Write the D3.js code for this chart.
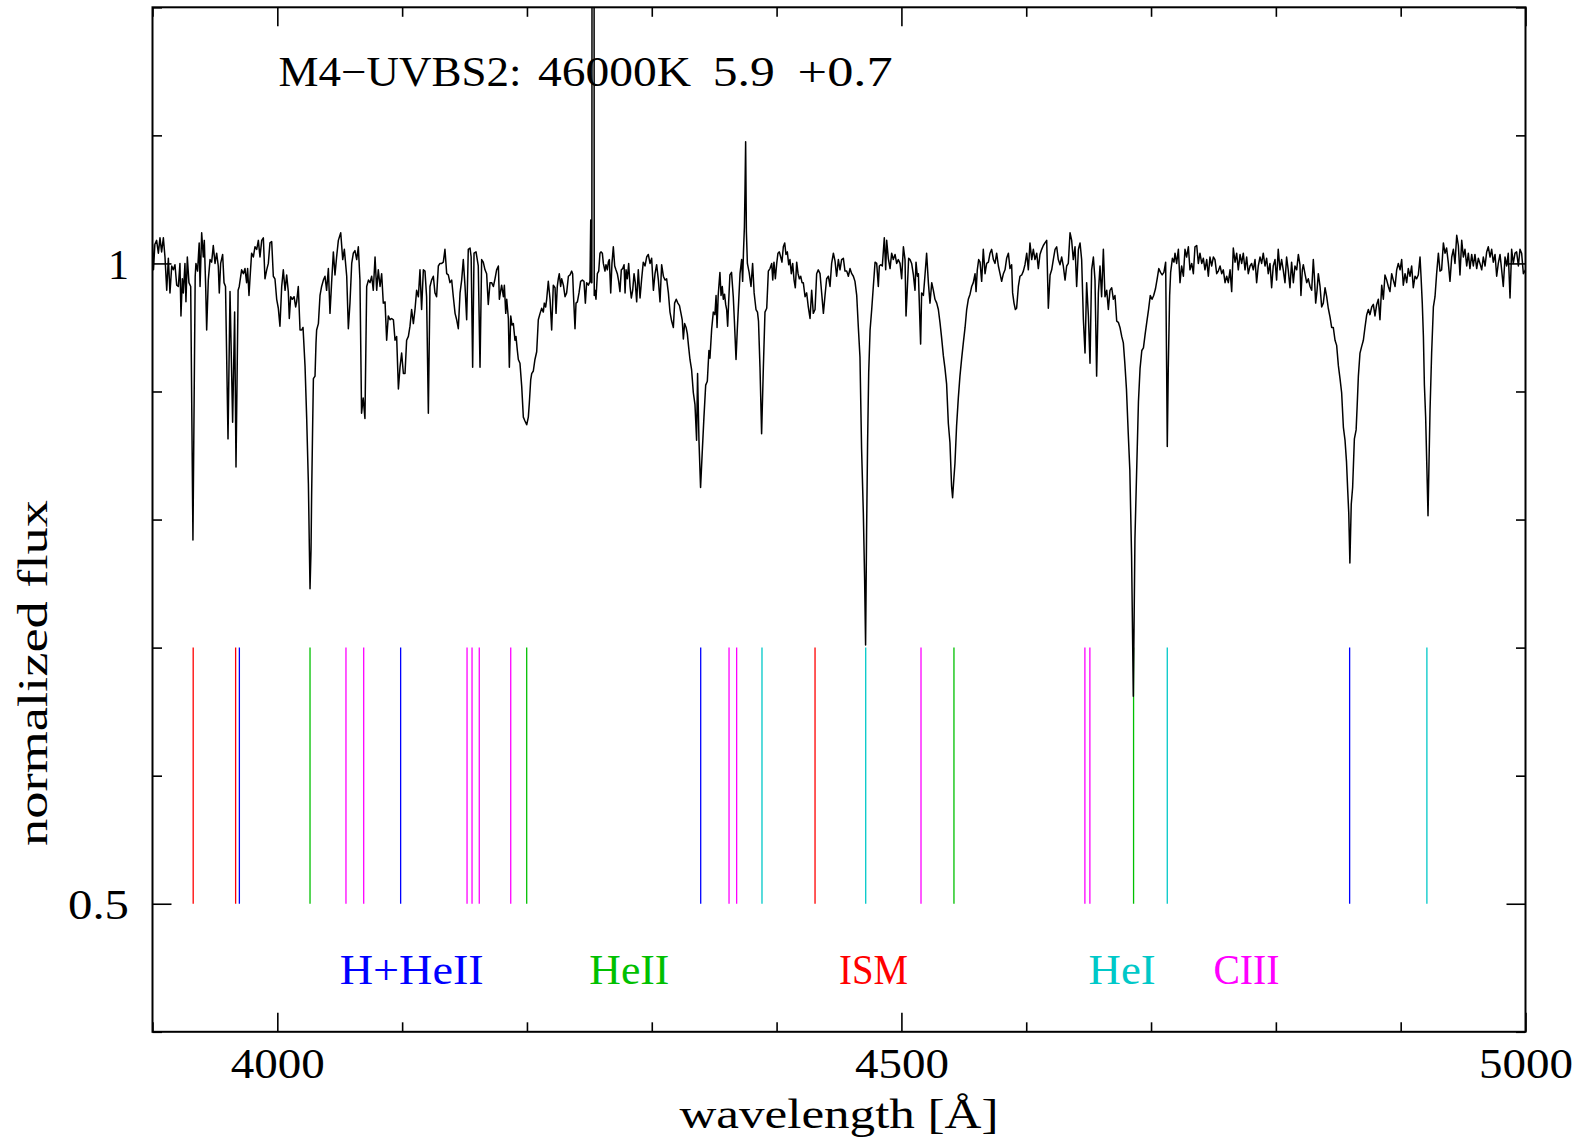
<!DOCTYPE html>
<html>
<head>
<meta charset="utf-8">
<script src="https://cdn.jsdelivr.net/npm/d3@7"></script>
<style>
  body { margin: 0; background: #fff; }
  text { font-family: "Liberation Serif", serif; }
</style>
</head>
<body>
<svg id="chart"></svg>
<script>
// normalized spectrum, [wavelength (A), flux]
const spectrum = [
[3900.0,1.015],[3900.8,0.995],[3901.9,1.015],[3903.3,1.018],[3904.7,1.008],[3906.0,1.020],[3907.3,1.009],[3908.7,1.020],[3910.0,1.005],[3911.4,0.979],
[3912.7,1.004],[3914.0,0.977],[3915.4,0.998],[3916.7,0.995],[3918.0,0.999],[3919.4,0.983],[3920.7,0.982],[3922.0,1.000],[3922.8,0.959],[3923.9,0.988],
[3924.7,0.977],[3926.0,1.000],[3926.8,0.970],[3927.9,1.005],[3929.2,0.985],[3930.6,0.982],[3932.4,0.784],[3934.2,0.990],[3934.8,1.000],[3936.1,0.994],
[3937.4,1.016],[3938.1,0.982],[3939.4,1.024],[3940.7,1.005],[3941.5,1.018],[3942.6,0.982],[3943.4,0.948],[3944.7,0.987],[3946.1,1.003],[3947.4,1.001],
[3948.7,1.014],[3950.1,1.000],[3951.4,1.008],[3952.7,0.998],[3953.5,0.977],[3954.6,1.000],[3956.2,1.007],[3957.3,0.985],[3958.5,0.982],[3960.5,0.863],
[3962.1,0.978],[3964.2,0.876],[3965.8,0.962],[3966.9,0.841],[3968.6,0.979],[3969.5,0.982],[3971.4,0.995],[3972.8,0.992],[3974.1,0.996],[3975.4,0.985],
[3976.2,0.996],[3977.3,0.975],[3978.1,0.988],[3979.4,1.008],[3980.8,1.005],[3982.1,1.013],[3983.5,1.011],[3984.8,1.018],[3986.1,1.005],[3987.5,1.018],
[3988.8,1.020],[3990.1,0.988],[3991.5,0.995],[3992.8,1.000],[3994.1,1.016],[3995.5,1.017],[3996.8,0.990],[3998.1,0.988],[3999.5,0.972],[4000.8,0.965],
[4002.1,0.951],[4003.5,0.982],[4004.8,0.995],[4006.2,0.979],[4007.5,0.991],[4008.8,0.978],[4009.6,0.957],[4010.7,0.974],[4012.0,0.972],[4013.4,0.974],
[4014.7,0.966],[4015.5,0.970],[4016.8,0.982],[4018.2,0.948],[4019.5,0.948],[4020.6,0.950],[4022.2,0.920],[4023.5,0.880],[4024.9,0.828],[4025.7,0.776],
[4026.2,0.746],[4027.0,0.776],[4027.5,0.820],[4028.3,0.873],[4028.9,0.910],[4030.2,0.912],[4031.0,0.938],[4031.5,0.948],[4032.9,0.953],[4034.2,0.975],
[4035.5,0.982],[4036.9,0.987],[4038.2,0.990],[4039.5,0.979],[4040.9,0.996],[4042.2,0.961],[4043.5,0.985],[4044.9,1.009],[4046.2,0.991],[4047.5,1.005],
[4048.9,1.018],[4050.8,1.024],[4052.4,1.003],[4053.7,1.011],[4055.6,0.990],[4056.9,0.949],[4058.2,0.969],[4059.6,1.000],[4060.9,1.008],[4062.2,1.010],
[4063.6,1.003],[4064.9,1.013],[4066.2,0.987],[4067.5,0.883],[4068.8,0.895],[4070.2,0.879],[4071.6,0.982],[4073.0,0.987],[4074.3,0.985],[4075.6,0.990],
[4076.9,0.979],[4078.3,1.005],[4079.6,0.979],[4080.9,0.995],[4082.3,0.982],[4083.6,0.992],[4084.9,0.969],[4086.3,0.970],[4087.6,0.940],[4088.9,0.959],
[4090.3,0.956],[4091.6,0.957],[4093.0,0.956],[4094.3,0.940],[4095.6,0.943],[4097.0,0.902],[4098.3,0.919],[4099.6,0.930],[4101.0,0.914],[4102.3,0.914],
[4103.6,0.940],[4105.0,0.943],[4106.3,0.951],[4107.6,0.964],[4109.0,0.953],[4110.3,0.964],[4111.6,0.979],[4113.0,0.974],[4114.3,0.995],[4115.6,0.964],
[4117.0,0.995],[4118.3,0.994],[4119.6,0.974],[4121.0,0.883],[4122.3,0.982],[4123.6,0.987],[4125.0,0.990],[4126.3,0.977],[4127.6,0.974],[4129.0,0.998],
[4130.3,1.000],[4131.7,1.000],[4133.0,1.001],[4134.3,1.011],[4135.7,0.992],[4137.0,0.991],[4138.3,0.985],[4139.7,0.987],[4141.0,0.974],[4142.4,0.961],
[4143.7,0.956],[4145.0,0.949],[4146.4,0.977],[4147.7,0.987],[4149.0,1.003],[4150.4,0.982],[4151.7,0.956],[4153.0,1.011],[4154.4,1.012],[4155.3,1.005],
[4156.5,0.919],[4157.6,1.008],[4159.2,1.009],[4161.0,0.998],[4162.4,0.919],[4163.7,1.003],[4165.0,1.001],[4166.4,0.995],[4167.7,0.992],[4169.0,0.968],
[4170.4,0.985],[4171.7,0.985],[4173.1,0.982],[4174.4,0.988],[4175.7,0.995],[4177.1,0.998],[4177.9,0.972],[4179.0,0.979],[4179.7,0.983],[4181.1,0.974],
[4181.9,0.983],[4183.0,0.961],[4183.8,0.972],[4185.1,0.957],[4185.9,0.919],[4187.0,0.959],[4188.0,0.952],[4189.1,0.953],[4190.4,0.940],[4191.2,0.943],
[4192.3,0.932],[4193.1,0.925],[4194.4,0.922],[4195.8,0.904],[4197.1,0.880],[4198.4,0.877],[4199.8,0.874],[4201.1,0.880],[4201.9,0.891],[4203.0,0.909],
[4203.8,0.914],[4205.1,0.916],[4206.4,0.925],[4207.8,0.931],[4209.1,0.956],[4210.5,0.961],[4211.8,0.965],[4213.1,0.962],[4213.9,0.969],[4215.0,0.966],
[4215.8,0.972],[4217.1,0.986],[4218.5,0.972],[4219.8,0.948],[4221.1,0.983],[4222.5,0.981],[4223.3,0.961],[4224.3,0.982],[4225.1,0.988],[4225.9,0.992],
[4227.0,0.982],[4227.8,0.988],[4229.2,0.983],[4230.5,0.974],[4231.8,0.977],[4233.2,0.990],[4234.5,0.991],[4235.8,0.994],[4236.6,0.992],[4237.2,0.977],
[4238.5,0.949],[4239.3,0.969],[4240.4,0.970],[4241.7,0.977],[4243.0,0.986],[4244.4,0.987],[4245.7,0.986],[4246.8,0.969],[4247.8,0.985],[4249.2,0.983],
[4250.5,0.986],[4251.1,1.034],[4251.6,0.985],[4252.0,0.985],[4252.95,3.000],[4253.9,0.975],[4254.5,0.979],[4255.3,0.972],[4256.4,0.992],[4257.5,0.994],
[4258.5,1.008],[4259.3,1.009],[4260.4,1.008],[4261.2,1.000],[4262.5,0.994],[4263.3,0.999],[4264.4,0.995],[4265.2,1.001],[4266.0,1.003],[4267.1,0.977],
[4268.1,1.000],[4269.2,1.013],[4270.3,0.998],[4271.3,0.995],[4272.4,0.992],[4273.5,0.986],[4274.5,0.978],[4275.6,0.995],[4276.7,0.996],[4277.8,0.999],
[4278.6,0.977],[4279.4,0.995],[4280.4,0.988],[4281.5,1.000],[4282.6,0.982],[4283.6,0.973],[4284.7,0.979],[4285.8,0.992],[4286.8,0.985],[4287.9,0.970],
[4289.2,0.995],[4290.6,0.973],[4291.9,0.988],[4293.2,1.001],[4294.6,0.998],[4295.9,1.005],[4297.2,1.007],[4298.6,1.000],[4299.9,1.004],[4301.3,0.979],
[4302.6,0.992],[4303.9,0.999],[4305.3,0.987],[4306.6,0.970],[4307.9,0.999],[4309.3,0.990],[4310.6,0.987],[4311.9,0.988],[4313.3,0.977],[4314.6,0.962],
[4315.9,0.955],[4317.3,0.950],[4318.3,0.969],[4319.6,0.972],[4320.9,0.969],[4322.2,0.967],[4323.6,0.960],[4324.4,0.956],[4325.3,0.941],[4326.3,0.953],
[4327.5,0.950],[4328.5,0.945],[4329.5,0.935],[4330.6,0.925],[4331.9,0.917],[4333.3,0.899],[4334.6,0.890],[4335.9,0.862],[4336.7,0.914],[4337.8,0.862],
[4339.1,0.825],[4340.5,0.854],[4341.8,0.880],[4343.2,0.905],[4344.5,0.908],[4345.8,0.932],[4346.6,0.926],[4348.0,0.949],[4349.3,0.962],[4350.6,0.960],
[4351.5,0.975],[4352.3,0.950],[4353.2,0.975],[4354.6,0.993],[4355.5,0.975],[4356.5,0.982],[4357.3,0.972],[4358.3,0.976],[4359.2,0.968],[4360.0,0.964],
[4360.8,0.951],[4361.6,0.970],[4362.6,0.991],[4363.9,0.993],[4365.3,0.974],[4366.2,0.955],[4367.5,0.925],[4368.5,0.948],[4369.6,0.970],[4370.7,0.992],
[4372.0,1.003],[4372.8,0.986],[4373.5,1.010],[4374.2,1.028],[4374.7,1.058],[4375.2,1.095],[4375.8,1.025],[4376.6,1.000],[4378.0,0.993],[4379.5,0.982],
[4380.8,1.000],[4382.0,0.977],[4383.5,0.964],[4384.7,0.962],[4385.5,0.955],[4386.7,0.919],[4388.0,0.867],[4389.4,0.919],[4390.7,0.962],[4392.1,0.965],
[4393.4,0.994],[4394.7,0.996],[4396.1,1.000],[4396.9,0.987],[4397.9,1.001],[4399.0,0.988],[4400.1,1.000],[4401.1,1.008],[4402.2,1.009],[4403.3,1.005],
[4404.3,1.001],[4405.4,1.013],[4406.5,1.016],[4407.5,1.007],[4408.6,1.009],[4409.7,0.999],[4410.7,1.003],[4411.8,0.992],[4412.9,1.000],[4414.0,0.987],
[4415.0,0.981],[4416.1,1.001],[4417.2,0.992],[4418.2,0.988],[4419.3,0.990],[4420.4,0.985],[4421.4,0.985],[4422.8,0.974],[4424.1,0.977],[4425.4,0.966],
[4426.8,0.957],[4428.1,0.979],[4429.4,0.961],[4430.8,0.964],[4432.1,0.992],[4433.4,0.995],[4434.8,0.992],[4436.1,0.977],[4437.5,0.961],[4438.8,0.975],
[4440.1,0.988],[4441.5,0.990],[4442.8,0.982],[4444.1,1.000],[4445.5,1.008],[4446.8,1.002],[4448.1,0.990],[4449.5,1.003],[4450.8,0.995],[4452.1,1.003],
[4453.5,1.004],[4454.8,0.994],[4456.2,0.994],[4457.5,0.990],[4458.8,0.996],[4460.2,0.992],[4461.5,0.990],[4462.8,0.986],[4464.2,0.975],[4465.5,0.950],
[4466.8,0.927],[4468.1,0.855],[4469.5,0.805],[4470.5,0.755],[4471.3,0.702],[4472.1,0.790],[4472.9,0.860],[4473.8,0.915],[4474.9,0.948],[4476.2,0.964],
[4477.5,0.982],[4478.9,1.001],[4480.2,1.000],[4481.5,0.982],[4482.3,0.998],[4483.4,0.999],[4484.7,0.998],[4486.3,1.020],[4487.4,0.995],[4488.2,1.018],
[4489.5,1.004],[4490.9,0.996],[4492.2,1.008],[4493.5,1.003],[4494.9,1.007],[4496.2,1.000],[4497.5,1.003],[4498.9,1.000],[4500.2,0.988],[4501.6,1.013],
[4502.9,1.003],[4503.7,0.959],[4504.8,0.982],[4505.8,1.004],[4506.9,1.003],[4508.2,1.000],[4509.6,0.991],[4510.9,0.979],[4511.7,1.001],[4512.8,0.990],
[4513.6,0.992],[4515.4,0.937],[4516.2,0.977],[4517.6,0.975],[4518.9,0.991],[4520.2,1.008],[4521.6,0.985],[4522.9,0.969],[4524.3,0.985],[4525.6,0.979],
[4526.9,0.972],[4528.3,0.969],[4529.6,0.964],[4530.9,0.954],[4532.2,0.942],[4533.6,0.928],[4534.9,0.918],[4536.2,0.906],[4537.6,0.875],[4538.9,0.860],
[4540.2,0.826],[4541.0,0.817],[4542.1,0.833],[4542.9,0.844],[4544.2,0.873],[4545.6,0.895],[4546.9,0.912],[4548.3,0.926],[4549.6,0.938],[4551.0,0.950],
[4552.3,0.964],[4553.6,0.972],[4555.0,0.976],[4556.3,0.982],[4557.6,0.985],[4559.0,0.992],[4559.8,0.978],[4560.8,0.995],[4561.9,1.003],[4563.0,1.001],
[4564.3,0.986],[4565.6,1.011],[4567.0,0.992],[4568.3,1.000],[4569.7,1.001],[4571.0,1.008],[4572.3,1.011],[4573.7,1.003],[4575.0,1.000],[4576.3,1.008],
[4577.7,0.998],[4579.0,0.992],[4580.3,0.986],[4581.7,0.992],[4583.0,0.995],[4584.3,1.004],[4585.7,1.008],[4587.0,0.996],[4588.3,0.999],[4589.1,0.977],
[4590.2,0.969],[4591.3,0.964],[4592.3,0.965],[4593.7,0.982],[4595.0,0.990],[4596.4,0.991],[4597.7,0.994],[4599.0,0.999],[4600.4,1.008],[4601.7,0.995],
[4603.0,1.016],[4604.4,1.003],[4605.7,1.011],[4607.0,1.003],[4608.4,1.008],[4609.7,0.996],[4611.0,1.007],[4612.4,1.011],[4613.7,1.014],[4615.0,1.016],
[4616.4,1.018],[4617.7,0.965],[4619.1,0.991],[4620.4,0.995],[4621.7,1.003],[4623.1,1.011],[4624.4,1.013],[4625.7,1.003],[4627.1,0.999],[4628.4,1.005],
[4629.7,0.998],[4631.1,0.987],[4632.4,0.998],[4633.7,1.000],[4635.1,1.024],[4636.4,1.018],[4637.7,1.003],[4639.1,1.013],[4640.4,0.982],[4641.8,1.011],
[4643.1,1.016],[4644.4,1.003],[4645.8,0.956],[4647.1,0.930],[4648.4,0.985],[4649.8,0.959],[4651.1,0.922],[4652.4,0.995],[4653.8,1.005],[4655.1,0.987],
[4656.4,0.912],[4657.8,0.977],[4659.1,0.998],[4660.4,0.974],[4661.8,1.011],[4663.1,0.974],[4664.5,0.979],[4665.8,0.964],[4667.1,0.979],[4668.5,0.981],
[4669.8,0.972],[4671.1,0.975],[4672.5,0.955],[4673.8,0.954],[4675.1,0.950],[4676.5,0.943],[4677.8,0.938],[4679.0,0.922],[4680.3,0.902],[4681.7,0.868],
[4683.0,0.839],[4684.4,0.772],[4685.8,0.662],[4687.1,0.785],[4688.5,0.839],[4689.9,0.892],[4691.2,0.918],[4692.6,0.932],[4693.9,0.934],[4695.3,0.945],
[4696.7,0.955],[4698.0,0.964],[4699.4,0.975],[4700.8,0.972],[4702.1,0.975],[4703.5,0.980],[4704.9,0.988],[4706.2,0.996],[4707.6,0.993],[4708.9,0.991],
[4710.3,0.993],[4711.7,1.001],[4712.5,0.918],[4713.0,0.857],[4713.8,0.918],[4714.9,0.975],[4715.7,0.993],[4717.1,1.004],[4718.4,1.001],[4719.2,1.008],
[4720.5,1.000],[4721.9,1.011],[4723.2,0.985],[4724.5,0.998],[4725.9,0.990],[4727.2,1.011],[4728.5,1.005],[4729.9,1.013],[4731.2,0.995],[4732.6,1.000],
[4733.9,0.992],[4735.2,1.013],[4736.6,1.014],[4737.9,1.000],[4739.2,1.008],[4740.6,1.000],[4741.9,1.004],[4743.2,0.995],[4744.6,1.003],[4745.9,0.990],
[4747.2,1.005],[4748.6,0.998],[4749.9,1.005],[4751.2,1.003],[4752.6,0.992],[4753.9,0.994],[4755.3,0.998],[4756.6,0.992],[4757.9,0.995],[4759.3,0.985],
[4760.6,0.990],[4761.9,0.985],[4763.3,0.995],[4764.6,0.978],[4765.9,1.012],[4767.3,1.001],[4768.6,1.008],[4769.9,0.995],[4771.3,1.007],[4772.6,1.000],
[4773.9,1.008],[4775.3,0.995],[4776.6,1.005],[4777.9,0.992],[4779.3,0.998],[4780.6,1.000],[4781.9,0.995],[4783.3,1.003],[4784.6,0.985],[4785.9,0.998],
[4787.3,1.005],[4788.6,1.000],[4789.9,1.008],[4791.3,0.998],[4792.6,1.004],[4793.9,0.992],[4795.3,1.000],[4796.6,0.981],[4797.9,0.998],[4799.3,1.003],
[4800.6,0.987],[4801.9,1.011],[4803.3,0.995],[4804.6,1.003],[4805.9,0.995],[4807.3,0.985],[4808.6,1.005],[4809.9,0.995],[4811.3,0.981],[4812.6,1.001],
[4814.0,0.985],[4815.3,0.998],[4816.7,0.995],[4818.0,1.007],[4819.3,0.999],[4820.1,0.975],[4821.2,0.995],[4822.0,0.999],[4823.3,0.992],[4824.7,0.985],
[4826.0,0.988],[4827.4,0.982],[4828.7,0.979],[4830.0,1.003],[4830.8,0.991],[4831.9,0.969],[4833.0,0.979],[4834.0,0.992],[4835.4,0.982],[4836.7,0.966],
[4838.0,0.969],[4839.4,0.981],[4840.7,0.974],[4842.0,0.965],[4843.4,0.958],[4844.7,0.950],[4846.0,0.950],[4847.4,0.940],[4848.7,0.936],[4850.1,0.920],
[4851.4,0.910],[4852.7,0.899],[4854.1,0.872],[4855.4,0.862],[4856.6,0.845],[4857.6,0.822],[4858.4,0.805],[4859.3,0.766],[4860.4,0.812],[4861.5,0.825],
[4862.9,0.863],[4864.3,0.870],[4865.1,0.888],[4866.1,0.912],[4867.4,0.930],[4868.7,0.935],[4870.1,0.940],[4871.4,0.950],[4872.8,0.960],[4874.1,0.964],
[4875.4,0.960],[4876.8,0.966],[4878.1,0.968],[4879.4,0.959],[4880.8,0.968],[4882.1,0.972],[4883.4,0.956],[4884.8,0.983],[4886.1,0.972],[4887.4,0.991],
[4888.8,0.987],[4890.1,0.982],[4891.4,0.978],[4892.8,0.992],[4894.1,0.987],[4895.5,0.982],[4896.8,0.995],[4898.1,1.000],[4899.5,0.995],[4900.8,1.003],
[4902.1,0.983],[4903.5,0.992],[4904.8,0.985],[4906.1,0.996],[4907.5,0.990],[4908.8,0.998],[4910.1,0.981],[4911.5,0.990],[4912.8,0.988],[4914.1,0.991],
[4915.5,1.005],[4916.3,0.990],[4917.3,0.969],[4918.2,0.943],[4919.0,0.905],[4920.0,0.880],[4921.0,0.840],[4921.9,0.803],[4922.8,0.850],[4923.5,0.885],
[4924.8,0.930],[4926.2,0.966],[4927.5,0.974],[4928.8,0.992],[4930.2,1.008],[4931.5,0.994],[4932.8,0.995],[4934.2,1.016],[4935.5,1.008],[4936.8,1.012],
[4938.2,1.000],[4939.5,0.986],[4940.9,1.005],[4942.2,1.011],[4943.5,1.000],[4944.9,1.022],[4946.2,1.014],[4947.5,0.991],[4948.9,1.018],[4950.2,1.005],
[4951.5,1.011],[4952.9,0.998],[4954.2,1.008],[4955.5,0.996],[4956.9,1.007],[4958.2,0.998],[4959.5,1.007],[4960.9,0.996],[4962.2,1.004],[4963.5,1.000],
[4964.9,0.995],[4966.2,1.005],[4967.6,0.998],[4968.9,1.009],[4970.2,1.013],[4971.6,1.005],[4972.9,1.011],[4974.2,1.001],[4975.6,1.007],[4976.9,0.990],
[4978.2,1.000],[4979.6,1.007],[4980.9,0.995],[4982.2,0.982],[4983.6,1.005],[4984.9,0.998],[4986.2,1.008],[4987.6,0.973],[4988.9,1.011],[4990.2,1.000],
[4991.6,1.008],[4992.9,1.009],[4994.3,0.998],[4995.6,1.011],[4996.9,1.008],[4998.3,0.992],[5000.0,0.995]
];

// line identifications (wavelengths of the marks)
const hLines = [3969.6, 4098.8, 4339.2, 4859.1];
const he2Lines = [4026.2, 4199.8, 4542.1, 4686.0];
const ismLines = [3932.6, 3966.6, 4430.8];
const he1Lines = [4388.3, 4471.4, 4713.0, 4921.0];
const c3Lines = [4055.0, 4069.2, 4152.0, 4156.0, 4161.8, 4187.0, 4361.9, 4368.0, 4515.7, 4647.0, 4651.0];

const groupNames = ["H+HeII", "HeII", "ISM", "HeI", "CIII"];
const groupLabelWave = [4050, 4250, 4450, 4650, 4750];

const xMajor = [4000, 4500, 5000];
const yMajor = [0.5, 1];

const titleWords = ["M4\u2212UVBS2:", "46000K", "5.9", "+0.7"];

const w = 1583, h = 1141;
const pLeft = 152.5, pRight = 1525.5, pTop = 7.3, pBottom = 1031.8;
const fs = 42;

const svg = d3.select("#chart").attr("width", w).attr("height", h);

const x = d3.scaleLinear().domain([3900, 5000]).range([pLeft, pRight]);
const y = d3.scaleLinear().domain([0.4, 1.2]).range([pBottom, pTop]);

const groups = [
  {waves: hLines, color: "#0000ff"},
  {waves: he2Lines, color: "#00c000"},
  {waves: ismLines, color: "#ff0000"},
  {waves: he1Lines, color: "#00c8c8"},
  {waves: c3Lines, color: "#ff00ff"}
];

svg.append("clipPath").attr("id", "plotClip")
  .append("rect").attr("x", pLeft).attr("y", pTop)
  .attr("width", pRight - pLeft).attr("height", pBottom - pTop);

// line marks
groups.forEach((g) => {
  svg.append("g").selectAll("line").data(g.waves).enter().append("line")
    .attr("x1", (d) => x(d)).attr("x2", (d) => x(d))
    .attr("y1", y(0.5)).attr("y2", y(0.7))
    .attr("stroke", g.color).attr("stroke-width", 1.3);
});

// spectrum
const line = d3.line().x((d) => x(d[0])).y((d) => y(d[1]));
svg.append("path").datum(spectrum)
  .attr("clip-path", "url(#plotClip)")
  .attr("d", line)
  .attr("fill", "none").attr("stroke", "#000").attr("stroke-width", 1.5)
  .attr("stroke-linejoin", "round");

// axes (ticks inside on all four sides)
const xMinor = d3.range(3900, 5001, 100).filter((v) => !xMajor.includes(v));
const yMinor = [0.4, 0.6, 0.7, 0.8, 0.9, 1.1, 1.2];

const styleAxis = (g) => {
  g.select(".domain").remove();
  g.selectAll("line").attr("stroke", "#000").attr("stroke-width", 1.6);
  g.selectAll("text").attr("font-size", fs).attr("fill", "#000")
    .style("font-family", "'Liberation Serif', serif");
};

const bottomAxis = svg.append("g").attr("transform", `translate(0,${pBottom})`)
  .call(d3.axisBottom(x).tickValues(xMajor).tickSizeInner(-19).tickSizeOuter(0).tickPadding(16.5).tickFormat(d3.format("d")))
  .call(styleAxis);
bottomAxis.selectAll("text").attr("textLength", 94).attr("lengthAdjust", "spacingAndGlyphs");

svg.append("g").attr("transform", `translate(0,${pBottom})`)
  .call(d3.axisBottom(x).tickValues(xMinor).tickSizeInner(-9.5).tickSizeOuter(0).tickFormat(""))
  .call(styleAxis);
svg.append("g").attr("transform", `translate(0,${pTop})`)
  .call(d3.axisTop(x).tickValues(xMajor).tickSizeInner(-19).tickSizeOuter(0).tickFormat(""))
  .call(styleAxis);
svg.append("g").attr("transform", `translate(0,${pTop})`)
  .call(d3.axisTop(x).tickValues(xMinor).tickSizeInner(-9.5).tickSizeOuter(0).tickFormat(""))
  .call(styleAxis);

const leftAxis = svg.append("g").attr("transform", `translate(${pLeft},0)`)
  .call(d3.axisLeft(y).tickValues(yMajor).tickSizeInner(-19).tickSizeOuter(0).tickPadding(23.5).tickFormat(d3.format("~g")))
  .call(styleAxis);
leftAxis.selectAll("text").attr("dy", "0.35em")
  .filter((d) => d === 0.5).attr("textLength", 61).attr("lengthAdjust", "spacingAndGlyphs");

svg.append("g").attr("transform", `translate(${pLeft},0)`)
  .call(d3.axisLeft(y).tickValues(yMinor).tickSizeInner(-9.5).tickSizeOuter(0).tickFormat(""))
  .call(styleAxis);
svg.append("g").attr("transform", `translate(${pRight},0)`)
  .call(d3.axisRight(y).tickValues(yMajor).tickSizeInner(-19).tickSizeOuter(0).tickFormat(""))
  .call(styleAxis);
svg.append("g").attr("transform", `translate(${pRight},0)`)
  .call(d3.axisRight(y).tickValues(yMinor).tickSizeInner(-9.5).tickSizeOuter(0).tickFormat(""))
  .call(styleAxis);

// frame
svg.append("rect").attr("x", pLeft).attr("y", pTop)
  .attr("width", pRight - pLeft).attr("height", pBottom - pTop)
  .attr("fill", "none").attr("stroke", "#000").attr("stroke-width", 2);

// group labels
const labelWidths = [144, 80, 69, 67, 66];
svg.append("g").selectAll("text").data(groupNames).enter().append("text")
  .attr("x", (d, i) => x(groupLabelWave[i]))
  .attr("y", y(0.4375))
  .attr("font-size", fs)
  .attr("fill", (d, i) => groups[i].color)
  .attr("textLength", (d, i) => labelWidths[i])
  .attr("lengthAdjust", "spacingAndGlyphs")
  .text((d) => d);

// title, word by word (the plot font has wide spaces)
const titleX = [278.6, 538, 712.8, 797.6];
const titleW = [243, 153, 62, 95];
svg.append("text").attr("y", y(1.1385)).attr("font-size", fs)
  .selectAll("tspan").data(titleWords).enter().append("tspan")
  .attr("x", (d, i) => titleX[i])
  .attr("textLength", (d, i) => titleW[i])
  .attr("lengthAdjust", "spacingAndGlyphs")
  .text((d) => d);

// axis labels
svg.append("text").attr("x", (pLeft + pRight) / 2).attr("y", 1128)
  .attr("text-anchor", "middle").attr("font-size", fs)
  .attr("textLength", 319).attr("lengthAdjust", "spacingAndGlyphs")
  .text("wavelength [\u00c5]");

svg.append("text").attr("transform", "translate(46.5,673) rotate(-90)")
  .attr("text-anchor", "middle").attr("font-size", fs)
  .attr("textLength", 346).attr("lengthAdjust", "spacingAndGlyphs")
  .text("normalized flux");
</script>
</body>
</html>
